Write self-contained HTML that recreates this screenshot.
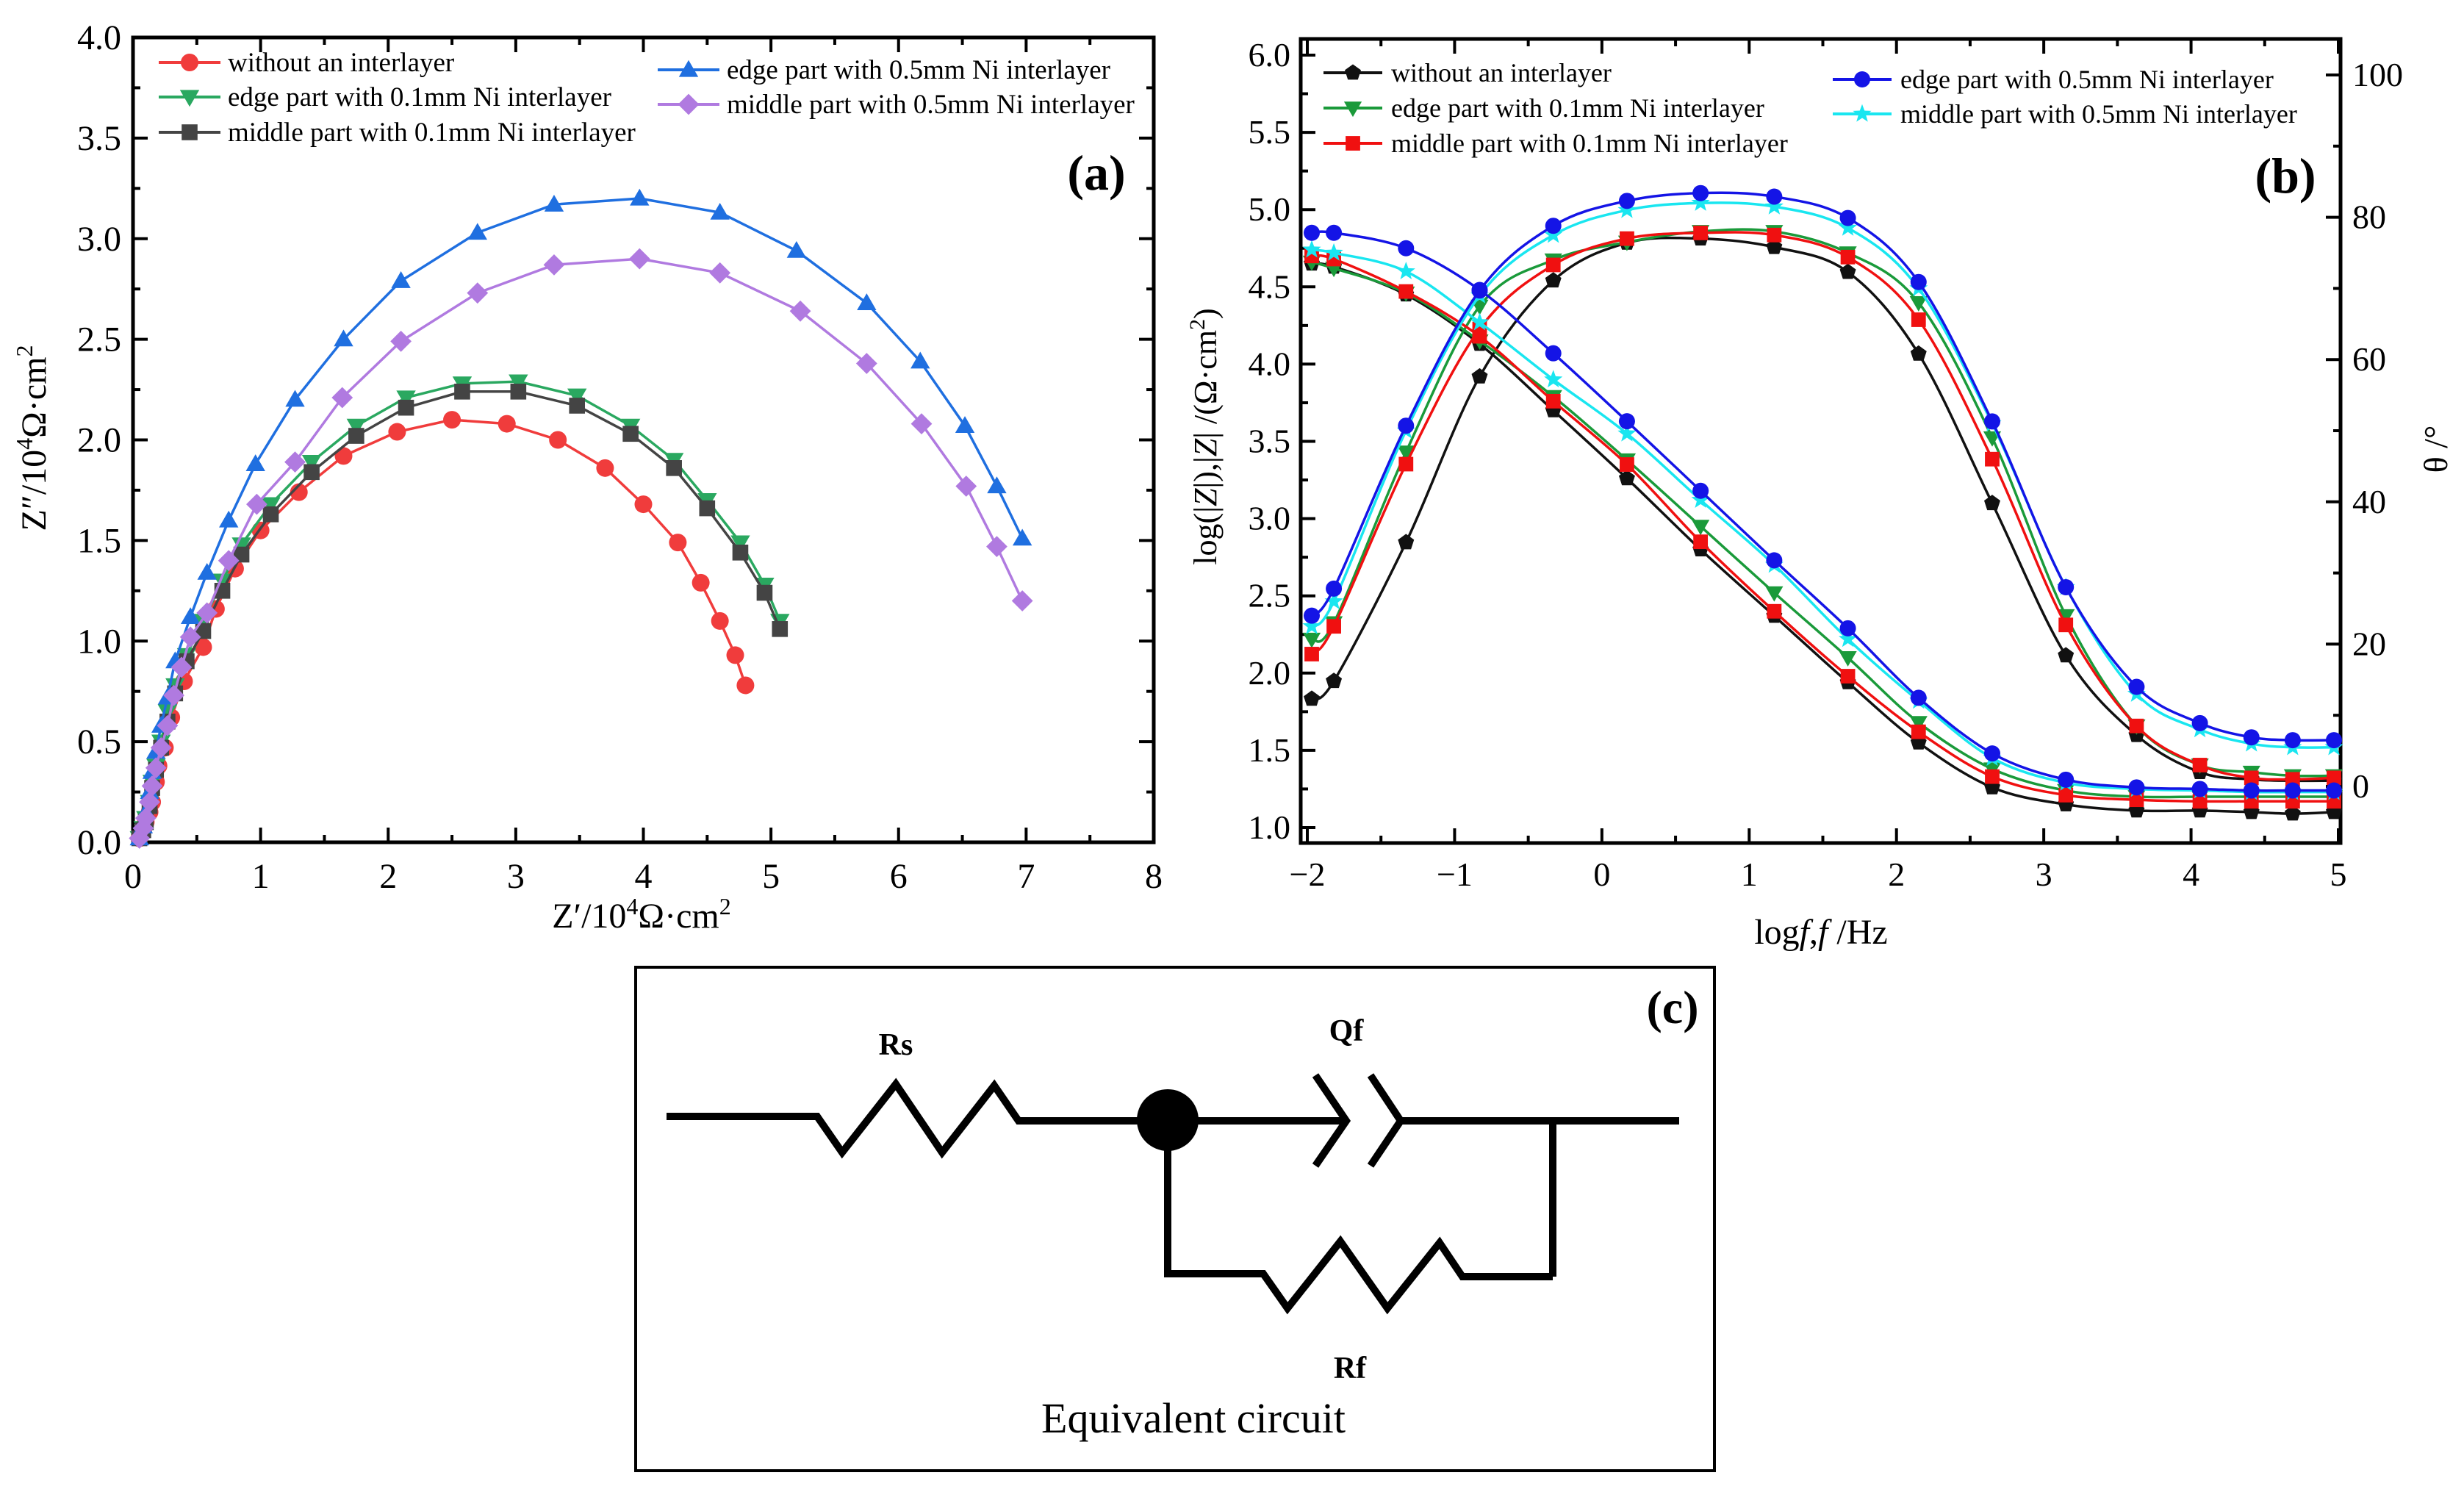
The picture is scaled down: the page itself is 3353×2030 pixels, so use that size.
<!DOCTYPE html>
<html><head><meta charset="utf-8"><style>
html,body{margin:0;padding:0;background:#fff}
svg{display:block}
text,tspan{font-family:"Liberation Serif","Times New Roman",Times,"DejaVu Serif",serif}
</style></head><body>
<svg id="fig" width="3353" height="2030" viewBox="0 0 3353 2030" xmlns="http://www.w3.org/2000/svg">
<g id="pa"></g>
<g id="pb"></g>
<g id="pc">
  <rect x="865" y="1316" width="1468" height="685" fill="none" stroke="#000" stroke-width="4"/>
  <text x="2276" y="1392" font-size="64" font-weight="bold" text-anchor="middle">(c)</text>
  <g fill="none" stroke="#000" stroke-width="10" stroke-linejoin="miter">
    <polyline points="907,1519 1112,1519 1146,1568 1219,1475 1282,1568 1353,1477 1386,1525 1832,1525"/>
    <polyline points="1790,1463 1832,1525 1790,1586"/>
    <polyline points="1865,1463 1906,1525 1865,1586"/>
    <polyline points="1906,1525 2285,1525"/>
    <polyline points="2113,1520 2113,1737"/>
    <polyline points="1589,1540 1589,1733 1719,1733 1752,1780 1824,1689 1888,1780 1959,1691 1990,1737 2113,1737"/>
  </g>
  <ellipse cx="1589" cy="1524" rx="42" ry="42" fill="#000"/>
  <text x="1219" y="1435" font-size="42" font-weight="bold" text-anchor="middle">Rs</text>
  <text x="1832" y="1416" font-size="42" font-weight="bold" text-anchor="middle">Qf</text>
  <text x="1837" y="1875" font-size="42" font-weight="bold" text-anchor="middle">Rf</text>
  <text x="1624" y="1949" font-size="58" text-anchor="middle">Equivalent circuit</text>
</g>
</svg>
<script>
// ---------- Panel (a) data ----------
const aRedX = [0.05,0.08,0.1,0.13,0.15,0.18,0.2,0.25,0.3,0.4,0.55,0.65,0.8,1.0,1.3,1.65,2.07,2.5,2.93,3.33,3.7,4.0,4.27,4.45,4.6,4.72,4.8];
const aRedY = [0.02,0.06,0.1,0.15,0.2,0.3,0.38,0.47,0.62,0.8,0.97,1.16,1.36,1.55,1.74,1.92,2.04,2.1,2.08,2.0,1.86,1.68,1.49,1.29,1.1,0.93,0.78];
const aGreenX = [0.05,0.08,0.1,0.13,0.15,0.18,0.22,0.27,0.33,0.42,0.55,0.7,0.85,1.08,1.4,1.75,2.14,2.58,3.02,3.48,3.9,4.24,4.5,4.76,4.95,5.07];
const aGreenY = [0.02,0.07,0.12,0.2,0.3,0.38,0.5,0.65,0.78,0.93,1.1,1.3,1.48,1.68,1.89,2.07,2.21,2.28,2.29,2.22,2.07,1.9,1.7,1.49,1.28,1.1];
const aBlackX = [0.05,0.08,0.1,0.13,0.15,0.18,0.22,0.27,0.33,0.42,0.55,0.7,0.85,1.08,1.4,1.75,2.14,2.58,3.02,3.48,3.9,4.24,4.5,4.76,4.95,5.07];
const aBlackY = [0.02,0.06,0.1,0.18,0.27,0.36,0.47,0.6,0.74,0.9,1.05,1.25,1.43,1.63,1.84,2.02,2.16,2.24,2.24,2.17,2.03,1.86,1.66,1.44,1.24,1.06];
const aBlueX = [0.05,0.08,0.1,0.13,0.15,0.18,0.22,0.27,0.33,0.45,0.58,0.75,0.96,1.27,1.65,2.1,2.7,3.3,3.97,4.6,5.2,5.75,6.17,6.52,6.77,6.97];
const aBlueY = [0.02,0.08,0.15,0.25,0.35,0.45,0.58,0.72,0.9,1.12,1.34,1.6,1.88,2.2,2.5,2.79,3.03,3.17,3.2,3.13,2.94,2.68,2.39,2.07,1.77,1.51];
const aPurpleX = [0.05,0.08,0.1,0.13,0.15,0.18,0.22,0.27,0.32,0.38,0.45,0.58,0.75,0.97,1.27,1.64,2.1,2.7,3.3,3.97,4.6,5.23,5.75,6.18,6.53,6.77,6.97];
const aPurpleY = [0.02,0.07,0.12,0.2,0.28,0.37,0.47,0.58,0.73,0.87,1.02,1.14,1.4,1.68,1.89,2.21,2.49,2.73,2.87,2.9,2.83,2.64,2.38,2.08,1.77,1.47,1.2];
const aXTicks = ["0","1","2","3","4","5","6","7","8"];
const aYTicks = ["0.0","0.5","1.0","1.5","2.0","2.5","3.0","3.5","4.0"];

// ---------- Panel (b) data ----------
const bLogF = [-1.97,-1.82,-1.33,-0.83,-0.33,0.17,0.67,1.17,1.67,2.15,2.65,3.15,3.63,4.06,4.41,4.69,4.97];
const bZBlack = [4.65,4.63,4.45,4.13,3.70,3.26,2.80,2.37,1.94,1.55,1.26,1.15,1.11,1.11,1.10,1.09,1.10];
const bZGreen = [4.66,4.62,4.46,4.15,3.79,3.38,2.95,2.52,2.10,1.68,1.38,1.24,1.20,1.20,1.20,1.20,1.20];
const bZRed = [4.70,4.68,4.47,4.18,3.76,3.35,2.85,2.40,1.98,1.62,1.33,1.21,1.18,1.17,1.17,1.17,1.17];
const bZBlue = [4.85,4.85,4.75,4.48,4.07,3.63,3.18,2.73,2.29,1.84,1.48,1.31,1.26,1.25,1.24,1.24,1.24];
const bZCyan = [4.74,4.72,4.60,4.27,3.90,3.55,3.12,2.70,2.22,1.82,1.45,1.29,1.25,1.24,1.23,1.23,1.23];
const bPBlack = [12.3,14.8,34.3,57.6,71.1,76.4,77.0,75.8,72.3,60.8,39.8,18.4,7.2,2.0,1.0,0.8,0.8];
const bPGreen = [20.7,23.0,47.0,67.5,74.0,76.5,78.0,78.0,75.0,68.0,49.0,24.0,8.5,3.0,2.0,1.5,1.5];
const bPRed = [18.6,22.5,45.3,64.3,73.3,77.0,77.8,77.5,74.4,65.6,46.0,22.7,8.5,3.0,1.2,1.0,1.2];
const bPBlue = [24.0,27.8,50.7,69.7,78.8,82.3,83.4,82.9,79.9,70.9,51.3,28.0,14.0,8.9,6.9,6.5,6.5];
const bPCyan = [22.5,26.0,50.0,69.0,77.5,81.0,82.0,81.5,78.5,70.0,51.0,28.0,13.0,8.0,6.0,5.5,5.5];
const bXTicks = ["\u22122","\u22121","0","1","2","3","4","5"];
const bYTicks = ["1.0","1.5","2.0","2.5","3.0","3.5","4.0","4.5","5.0","5.5","6.0"];
const bRTicks = ["0","20","40","60","80","100"];

const NS = "http://www.w3.org/2000/svg";
function mk(parent, tag, attrs){ const e=document.createElementNS(NS,tag); for(const k in attrs) e.setAttribute(k,attrs[k]); parent.appendChild(e); return e; }

function marker(g, shape, x, y, r, color){
  let e;
  if(shape==="circle") e=mk(g,"circle",{cx:x,cy:y,r:r,fill:color});
  else if(shape==="square") e=mk(g,"rect",{x:x-r*0.9,y:y-r*0.9,width:r*1.8,height:r*1.8,fill:color});
  else if(shape==="up") e=mk(g,"polygon",{points:`${x},${y-r*1.1} ${x+r*1.1},${y+r*0.8} ${x-r*1.1},${y+r*0.8}`,fill:color});
  else if(shape==="down") e=mk(g,"polygon",{points:`${x},${y+r*1.1} ${x+r*1.1},${y-r*0.8} ${x-r*1.1},${y-r*0.8}`,fill:color});
  else if(shape==="diamond") e=mk(g,"polygon",{points:`${x},${y-r*1.2} ${x+r*1.2},${y} ${x},${y+r*1.2} ${x-r*1.2},${y}`,fill:color});
  else if(shape==="pent"){ let p=[]; for(let i=0;i<5;i++){const a=-Math.PI/2+i*2*Math.PI/5;p.push((x+r*1.05*Math.cos(a))+","+(y+r*1.05*Math.sin(a)));} e=mk(g,"polygon",{points:p.join(" "),fill:color}); }
  else if(shape==="star"){ let p=[]; for(let i=0;i<10;i++){const a=-Math.PI/2+i*Math.PI/5;const rr=i%2?r*0.5:r*1.2;p.push((x+rr*Math.cos(a))+","+(y+rr*Math.sin(a)));} e=mk(g,"polygon",{points:p.join(" "),fill:color}); }
  
  
  return e;
}
function smoothPath(pts){
  let d=`M${pts[0][0]},${pts[0][1]}`;
  for(let i=0;i<pts.length-1;i++){
    const p0=pts[Math.max(0,i-1)],p1=pts[i],p2=pts[i+1],p3=pts[Math.min(pts.length-1,i+2)];
    const c1x=p1[0]+(p2[0]-p0[0])/6,c1y=p1[1]+(p2[1]-p0[1])/6,c2x=p2[0]-(p3[0]-p1[0])/6,c2y=p2[1]-(p3[1]-p1[1])/6;
    d+=` C${c1x},${c1y} ${c2x},${c2y} ${p2[0]},${p2[1]}`;
  }
  return d;
}

// ---------- Panel (a) ----------
(function(){
  const g=document.getElementById("pa");
  const L=181,R=1570,T=51,B=1146;
  const sx=v=>L+(v/8)*(R-L), sy=v=>B-(v/4)*(B-T);
  const fr=mk(g,"rect",{x:L,y:T,width:R-L,height:B-T,fill:"none",stroke:"#000","stroke-width":5});
  
  
  for(let i=0;i<=16;i++){const x=sx(i/2),len=i%2?10:20;
    mk(g,"line",{x1:x,y1:B,x2:x,y2:B-len,stroke:"#000","stroke-width":4});
    mk(g,"line",{x1:x,y1:T,x2:x,y2:T+len,stroke:"#000","stroke-width":4});}
  for(let i=0;i<=16;i++){const y=sy(i/4),len=i%2?10:20;
    mk(g,"line",{x1:L,y1:y,x2:L+len,y2:y,stroke:"#000","stroke-width":4});
    mk(g,"line",{x1:R,y1:y,x2:R-len,y2:y,stroke:"#000","stroke-width":4});}
  aXTicks.forEach((t,i)=>{const e=mk(g,"text",{x:sx(i),y:B+62,"font-size":48,"text-anchor":"middle"});e.textContent=t;
    
    });
  aYTicks.forEach((t,i)=>{const e=mk(g,"text",{x:L-16,y:sy(i*0.5)+16,"font-size":48,"text-anchor":"end"});e.textContent=t;
    
    });
  const xt=mk(g,"text",{x:873,y:1262,"font-size":48,"text-anchor":"middle"});
  xt.innerHTML='Z\u2032/10<tspan dy="-18" font-size="32">4</tspan><tspan dy="18">\u03A9\u00B7cm</tspan><tspan dy="-18" font-size="32">2</tspan>';
  
  
  const yt=mk(g,"text",{x:0,y:0,"font-size":48,"text-anchor":"middle",transform:"translate(62,596) rotate(-90)"});
  yt.innerHTML='Z\u2033/10<tspan dy="-18" font-size="32">4</tspan><tspan dy="18">\u03A9\u00B7cm</tspan><tspan dy="-18" font-size="32">2</tspan>';
  
  
  const series=[[aRedX,aRedY,"#f03c3c","circle","series-without-interlayer"],[aGreenX,aGreenY,"#2aa860","down","series-edge-0.1mm"],[aBlackX,aBlackY,"#444","square","series-middle-0.1mm"],[aBlueX,aBlueY,"#1f6fe0","up","series-edge-0.5mm"],[aPurpleX,aPurpleY,"#b07ae0","diamond","series-middle-0.5mm"]];
  series.forEach(s=>{
    const sg=mk(g,"g",{});
    
    
    const pts=s[0].map((x,i)=>[sx(x),sy(s[1][i])]);
    const pl=mk(sg,"polyline",{points:pts.map(p=>p.join(",")).join(" "),fill:"none",stroke:s[2],"stroke-width":3.5});
    
    
    pts.forEach(p=>marker(sg,s[3],p[0],p[1],12,s[2]));
  });
  const leg=[["without an interlayer","#f03c3c","circle",216,85],["edge part with 0.1mm Ni interlayer","#2aa860","down",216,132],["middle part with 0.1mm Ni interlayer","#444","square",216,180],["edge part with 0.5mm Ni interlayer","#1f6fe0","up",895,95],["middle part with 0.5mm Ni interlayer","#b07ae0","diamond",895,142]];
  leg.forEach(l=>{
    const lg=mk(g,"g",{});
    
    
    mk(lg,"line",{x1:l[3],y1:l[4],x2:l[3]+84,y2:l[4],stroke:l[1],"stroke-width":4});
    marker(lg,l[2],l[3]+42,l[4],12,l[1]);
    const t=mk(lg,"text",{x:l[3]+94,y:l[4]+12,"font-size":37});t.textContent=l[0];
  });
  const pl=mk(g,"text",{x:1492,y:258,"font-size":68,"font-weight":"bold","text-anchor":"middle"});pl.textContent="(a)";
  
  
})();

// ---------- Panel (b) ----------
(function(){
  const g=document.getElementById("pb");
  const L=1770,R=3185,T=53,B=1147;
  const sx=v=>1779+(v+2)/7*(3182-1779);
  const sy=v=>1126-(v-1)/5*(1126-75);
  const sr=v=>1070-v/100*(1070-102);
  const fr=mk(g,"rect",{x:L,y:T,width:R-L,height:B-T,fill:"none",stroke:"#000","stroke-width":5});
  
  
  for(let i=0;i<=14;i++){const x=sx(-2+i/2),len=i%2?10:20;
    mk(g,"line",{x1:x,y1:B,x2:x,y2:B-len,stroke:"#000","stroke-width":4});
    mk(g,"line",{x1:x,y1:T,x2:x,y2:T+len,stroke:"#000","stroke-width":4});}
  for(let i=0;i<=20;i++){const y=sy(1+i/4),len=i%2?10:20;
    mk(g,"line",{x1:L,y1:y,x2:L+len,y2:y,stroke:"#000","stroke-width":4});}
  for(let i=0;i<=10;i++){const y=sr(i*10),len=i%2?10:20;
    mk(g,"line",{x1:R,y1:y,x2:R-len,y2:y,stroke:"#000","stroke-width":4});}
  bXTicks.forEach((t,i)=>{const e=mk(g,"text",{x:sx(i-2),y:B+58,"font-size":46,"text-anchor":"middle"});e.textContent=t;
    
    });
  bYTicks.forEach((t,i)=>{const e=mk(g,"text",{x:L-14,y:sy(1+i*0.5)+15,"font-size":46,"text-anchor":"end"});e.textContent=t;
    
    });
  bRTicks.forEach((t,i)=>{const e=mk(g,"text",{x:R+16,y:sr(i*20)+15,"font-size":46});e.textContent=t;
    
    });
  const xt=mk(g,"text",{x:2478,y:1284,"font-size":48,"text-anchor":"middle"});
  xt.innerHTML='log<tspan font-style="italic">f</tspan>,<tspan font-style="italic">f</tspan> /Hz';
  
  
  const yt=mk(g,"text",{x:0,y:0,"font-size":44,"text-anchor":"middle",transform:"translate(1655,594) rotate(-90)"});
  yt.innerHTML='log(|<tspan font-style="italic">Z</tspan>|),|<tspan font-style="italic">Z</tspan>| /(\u03A9\u00B7cm<tspan dy="-16" font-size="30">2</tspan><tspan dy="16">)</tspan>';
  
  
  const rt=mk(g,"text",{x:0,y:0,"font-size":46,"text-anchor":"middle",transform:"translate(3330,611) rotate(-90)"});
  rt.textContent="\u03B8 /\u00B0";
  
  
  const cfg=[[bZBlack,bPBlack,"#111","pent","series-without-interlayer"],[bZGreen,bPGreen,"#1a9a3a","down","series-edge-0.1mm"],[bZRed,bPRed,"#f01010","square","series-middle-0.1mm"],[bZCyan,bPCyan,"#19e6f0","star","series-middle-0.5mm"],[bZBlue,bPBlue,"#1414e6","circle","series-edge-0.5mm"]];
  cfg.forEach(s=>{
    const sg=mk(g,"g",{});
    
    
    const pz=bLogF.map((x,i)=>[sx(x),sy(s[0][i])]);
    const pp=bLogF.map((x,i)=>[sx(x),sr(s[1][i])]);
    const l1=mk(sg,"path",{d:smoothPath(pz),fill:"none",stroke:s[2],"stroke-width":3.5});
    
    
    const l2=mk(sg,"path",{d:smoothPath(pp),fill:"none",stroke:s[2],"stroke-width":3.5});
    
    
    pz.forEach(p=>marker(sg,s[3],p[0],p[1],11,s[2]));
    pp.forEach(p=>marker(sg,s[3],p[0],p[1],11,s[2]));
  });
  const leg=[["without an interlayer","#111","pent",1801,99],["edge part with 0.1mm Ni interlayer","#1a9a3a","down",1801,147],["middle part with 0.1mm Ni interlayer","#f01010","square",1801,195],["edge part with 0.5mm Ni interlayer","#1414e6","circle",2494,108],["middle part with 0.5mm Ni interlayer","#19e6f0","star",2494,155]];
  leg.forEach(l=>{
    const lg=mk(g,"g",{});
    
    
    mk(lg,"line",{x1:l[3],y1:l[4],x2:l[3]+80,y2:l[4],stroke:l[1],"stroke-width":4});
    marker(lg,l[2],l[3]+40,l[4],11,l[1]);
    const t=mk(lg,"text",{x:l[3]+92,y:l[4]+12,"font-size":36});t.textContent=l[0];
  });
  const pl=mk(g,"text",{x:3110,y:262,"font-size":68,"font-weight":"bold","text-anchor":"middle"});pl.textContent="(b)";
  
  
})();
</script>
</body></html>
